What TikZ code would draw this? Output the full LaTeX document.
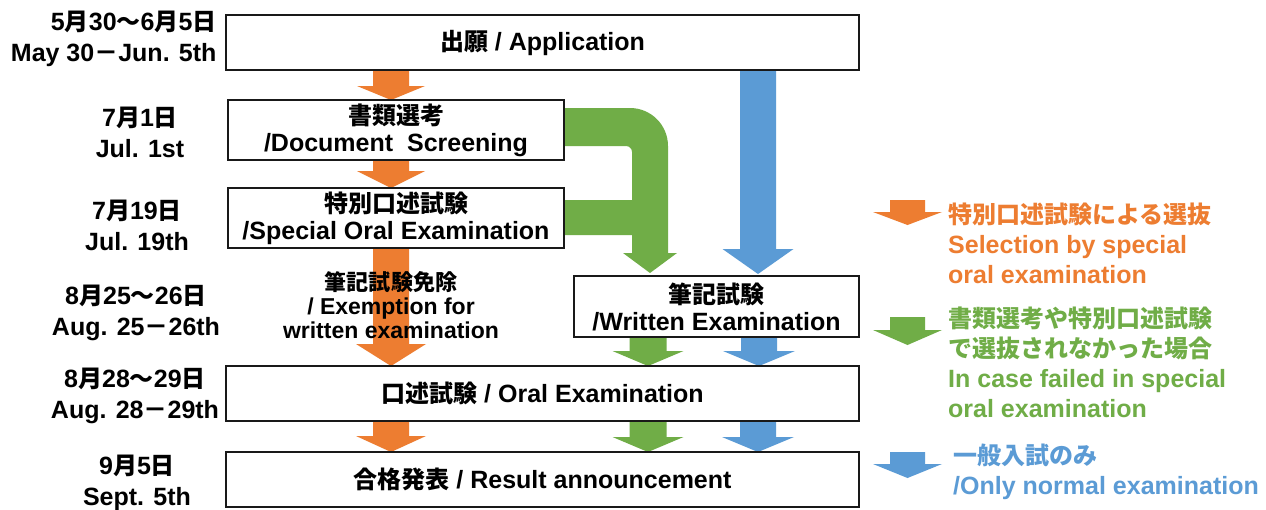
\documentclass[tikz,border=0pt]{standalone}
\usepackage{fontspec}
\setmainfont{Liberation Sans}
\newfontfamily\jp{Noto Sans CJK JP}[Scale=0.96]
\usetikzlibrary{calc}
\definecolor{aorange}{HTML}{ED7D31}
\definecolor{agreen}{HTML}{70AD47}
\definecolor{ablue}{HTML}{5B9BD5}
% #1 colour, #2 centre x, #3 start point, #4 tip point, #5 shaft half width, #6 head half width, #7 head height
\newcommand\blkarrow[7]{%
  \fill[#1] let \p1=(#3), \p2=(#4) in
    ({(#2-#5)*1pt},\y1) -- ({(#2+#5)*1pt},\y1) -- ({(#2+#5)*1pt},{\y2+#7*1pt})
    -- ({(#2+#6)*1pt},{\y2+#7*1pt}) -- ({#2*1pt},\y2) -- ({(#2-#6)*1pt},{\y2+#7*1pt})
    -- ({(#2-#5)*1pt},{\y2+#7*1pt}) -- cycle;}
\begin{document}
\begin{tikzpicture}[x=1pt,y=-1pt,
  font=\bfseries\fontsize{25}{27}\selectfont,
  box/.style={draw=black!90, line width=1.5pt, fill=white, inner sep=0pt, outer sep=0pt, align=center},
  date/.style={align=center, font=\bfseries\fontsize{25}{31}\selectfont},
  leg/.style={anchor=west, align=left, inner sep=0pt, font=\bfseries\fontsize{25}{30}\selectfont}]
\fill[white] (0,0) rectangle (1266,509);
\useasboundingbox (0,0) rectangle (1266,509);

% reference points for connectors (box edges)
\coordinate (appS) at (542.5,70);
\coordinate (docN) at (396,100);
\coordinate (docS) at (396,160);
\coordinate (speN) at (396,188);
\coordinate (speS) at (396,248);
\coordinate (wriN) at (716.5,274);
\coordinate (wriS) at (716.5,337);
\coordinate (oraN) at (542.5,366);
\coordinate (oraS) at (542.5,421);
\coordinate (resN) at (542.5,452);

% orange path
\blkarrow{aorange}{391}{appS}{docN}{18}{34}{14}
\blkarrow{aorange}{391}{docS}{speN}{18}{34}{17}
\blkarrow{aorange}{391}{speS}{oraN}{18}{35}{22}
\blkarrow{aorange}{391}{oraS}{resN}{18}{35}{16}

% blue path
\blkarrow{ablue}{758}{appS}{wriN}{18}{35.5}{25}
\blkarrow{ablue}{759}{wriS}{oraN}{18}{36}{15}
\blkarrow{ablue}{758}{oraS}{resN}{18}{36}{15}

% green path
\fill[agreen] (564,108) -- (630,108) arc[start angle=90,end angle=0,radius=38pt]
  -- (668,253) -- (677,253) -- (650,273) -- (623,253) -- (632,253) -- (632,235)
  -- (564,235) -- (564,200) -- (632,200) -- (632,152) arc[start angle=0,end angle=90,radius=6pt]
  -- (564,146) -- cycle;
\blkarrow{agreen}{648}{wriS}{oraN}{18.5}{35.5}{15}
\blkarrow{agreen}{648}{oraS}{resN}{18.5}{35.5}{15}

% boxes
\node[box, minimum width=633pt, minimum height=55pt] (app) at (542.5,42.5) {{\jp 出願} / Application};
\node[box, minimum width=336pt, minimum height=60pt] (doc) at (396,130) {{\jp 書類選考}\\/Document\ \ Screening};
\node[box, minimum width=336pt, minimum height=60pt] (spe) at (396,218) {{\jp 特別口述試験}\\/Special Oral Examination};
\node[box, minimum width=285pt, minimum height=61pt] (wri) at (716.5,306.5) {{\jp 筆記試験}\\/Written Examination};
\node[box, minimum width=633pt, minimum height=55pt] (ora) at (542.5,393.5) {{\jp 口述試験} / Oral Examination};
\node[box, minimum width=633pt, minimum height=55pt] (res) at (542.5,479.5) {{\jp 合格発表} / Result announcement};

% exemption label over the orange arrow
\node[align=center, font=\bfseries\fontsize{23}{24}\selectfont] (ex) at (391,305)
  {{\jp 筆記試験免除}\\/ Exemption for\\written examination};

% dates
\node[date, align=right, anchor=east] (d1) at (220,38.5) {5{\jp 月}30{\jp ～}6{\jp 月}5{\jp 日}\\May 30{\jp －}Jun. 5th};
\node[date] (d2) at (140,132) {7{\jp 月}1{\jp 日}\\Jul. 1st};
\node[date] (d3) at (137,225) {7{\jp 月}19{\jp 日}\\Jul. 19th};
\node[date] (d4) at (136,313) {8{\jp 月}25{\jp ～}26{\jp 日}\\Aug. 25{\jp －}26th};
\node[date] (d5) at (135,396) {8{\jp 月}28{\jp ～}29{\jp 日}\\Aug. 28{\jp －}29th};
\node[date] (d6) at (137,483) {9{\jp 月}5{\jp 日}\\Sept. 5th};

% legend
\coordinate (lo1) at (0,200); \coordinate (lo2) at (0,225);
\coordinate (lg1) at (0,317); \coordinate (lg2) at (0,345);
\coordinate (lb1) at (0,452); \coordinate (lb2) at (0,478);
\blkarrow{aorange}{907.5}{lo1}{lo2}{17.5}{34.5}{13}
\blkarrow{agreen}{907.5}{lg1}{lg2}{17.5}{34.5}{15}
\blkarrow{ablue}{907.5}{lb1}{lb2}{17.5}{34.5}{14}
\node[leg, text=aorange] (l1) at (948,243) {{\jp 特別口述試験による選抜}\\Selection by special\\oral examination};
\node[leg, text=agreen] (l2) at (948,362) {{\jp 書類選考や特別口述試験}\\{\jp で選抜されなかった場合}\\In case failed in special\\oral examination};
\node[leg, text=ablue] (l3) at (953,472) {{\jp 一般入試のみ}\\/Only normal examination};
\end{tikzpicture}
\end{document}
